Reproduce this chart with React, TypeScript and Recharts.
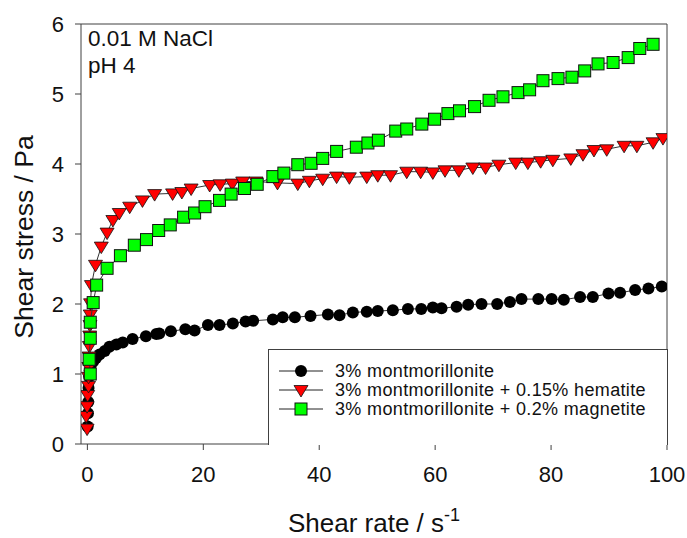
import React from "react";
import { ScatterChart, Scatter, XAxis, YAxis, ReferenceLine, Legend, Label } from "recharts";

const FONT = "Arial, 'Liberation Sans', sans-serif";
const AXIS = "#404040";

const rateTicks = [0, 20, 40, 60, 80, 100];
const stressTicks = [0, 1, 2, 3, 4, 5, 6];

// [shear rate (1/s), shear stress (Pa)]
const montmorillonite: [number, number][] = [
  [0.05, 0.25], [0.1, 0.44], [0.15, 0.6], [0.2, 0.8], [0.3, 0.96], [0.4, 1.05], [0.6, 1.13],
  [1.0, 1.18], [1.5, 1.23], [2.1, 1.28], [3.0, 1.33], [3.8, 1.39], [5.0, 1.42], [6.1, 1.45],
  [7.8, 1.5], [10.1, 1.54], [11.9, 1.57], [12.4, 1.58], [14.4, 1.61], [16.9, 1.64], [18.5, 1.62],
  [20.8, 1.7], [22.8, 1.7], [25.1, 1.72], [27.3, 1.75], [28.6, 1.76], [32.0, 1.78], [33.7, 1.81],
  [35.8, 1.81], [38.5, 1.83], [41.5, 1.85], [43.5, 1.84], [45.8, 1.88], [48.2, 1.89], [50.1, 1.9],
  [52.7, 1.91], [55.3, 1.93], [57.6, 1.93], [59.6, 1.95], [61.1, 1.94], [63.7, 1.96], [65.7, 1.99],
  [68.0, 2.0], [70.7, 2.0], [72.9, 2.03], [74.9, 2.07], [77.8, 2.07], [80.1, 2.07], [82.2, 2.06],
  [85.0, 2.1], [87.2, 2.1], [89.9, 2.15], [91.9, 2.16], [94.5, 2.2], [96.8, 2.22], [99.1, 2.25],
];

const withHematite: [number, number][] = [
  [-0.05, 0.22], [-0.2, 0.4], [-0.05, 0.54], [0.05, 0.7], [0.2, 0.83], [0.2, 0.96],
  [0.25, 1.1], [0.3, 1.25], [0.35, 1.4], [0.4, 1.55], [0.45, 1.7], [0.5, 1.85], [0.55, 2.01],
  [0.7, 2.27], [1.4, 2.56], [2.4, 2.82], [3.4, 3.02], [4.4, 3.2], [5.5, 3.3], [7.3, 3.39],
  [9.5, 3.48], [11.6, 3.57], [14.7, 3.58], [16.3, 3.6], [17.9, 3.65], [21.1, 3.7], [22.9, 3.71],
  [25.0, 3.72], [26.8, 3.75], [29.1, 3.75], [32.8, 3.73], [36.3, 3.72], [38.3, 3.76], [40.6, 3.79],
  [43.0, 3.82], [45.2, 3.81], [48.2, 3.82], [50.1, 3.84], [52.3, 3.84], [55.1, 3.89], [57.5, 3.89],
  [59.6, 3.88], [61.7, 3.91], [64.1, 3.91], [66.5, 3.95], [68.7, 3.95], [71.0, 3.99], [73.9, 4.02],
  [76.0, 4.02], [78.2, 4.04], [80.3, 4.06], [83.4, 4.08], [85.5, 4.14], [87.4, 4.2], [89.6, 4.21],
  [92.6, 4.26], [94.8, 4.26], [97.6, 4.31], [99.3, 4.37],
];

const withMagnetite: [number, number][] = [
  [0.5, 1.0], [0.3, 1.21], [0.5, 1.51], [0.5, 1.74], [1.0, 2.02], [1.6, 2.27], [3.4, 2.51],
  [5.7, 2.69], [8.1, 2.84], [10.2, 2.92], [12.3, 3.05], [14.3, 3.13], [16.6, 3.24], [18.5, 3.3],
  [20.3, 3.39], [22.8, 3.48], [24.8, 3.57], [27.1, 3.65], [29.3, 3.71], [32.0, 3.82], [33.9, 3.87],
  [36.3, 3.99], [38.6, 4.01], [40.6, 4.08], [43.0, 4.18], [46.4, 4.24], [48.4, 4.3], [50.2, 4.34],
  [53.2, 4.47], [55.1, 4.5], [57.7, 4.57], [59.9, 4.64], [62.2, 4.72], [64.2, 4.76], [66.8, 4.82],
  [69.3, 4.91], [71.7, 4.96], [74.3, 5.02], [76.3, 5.06], [78.6, 5.19], [81.2, 5.22], [83.6, 5.24],
  [85.8, 5.33], [88.1, 5.43], [90.7, 5.45], [93.3, 5.52], [95.3, 5.65], [97.6, 5.71],
];

const toPoints = (rows: [number, number][]) => rows.map(([rate, stress]) => ({ rate, stress }));

function Dot({ cx, cy }: any) {
  return <circle cx={cx} cy={cy} r={6} fill="#000" />;
}

function DownTriangle({ cx, cy }: any) {
  return (
    <polygon
      points={`${cx - 7},${cy - 4.5} ${cx + 7},${cy - 4.5} ${cx},${cy + 7}`}
      fill="#ff0000"
      stroke="#111"
      strokeWidth={0.8}
    />
  );
}

function Square({ cx, cy }: any) {
  return <rect x={cx - 6} y={cy - 6} width={12} height={12} fill="#00ff00" stroke="#111" strokeWidth={1} />;
}

const SERIES = [
  { key: "mont", name: "3% montmorillonite", data: toPoints(montmorillonite), Marker: Dot },
  { key: "hem", name: "3% montmorillonite + 0.15% hematite", data: toPoints(withHematite), Marker: DownTriangle },
  { key: "mag", name: "3% montmorillonite + 0.2% magnetite", data: toPoints(withMagnetite), Marker: Square },
];

function LegendBox() {
  return (
    <div
      style={{
        width: 400,
        height: 96,
        border: `1px solid ${AXIS}`,
        borderBottom: "none",
        boxSizing: "border-box",
        background: "#fff",
        paddingTop: 12,
        fontFamily: FONT,
        fontSize: 18,
        letterSpacing: 0.35,
        lineHeight: "18.5px",
        color: "#111",
      }}
    >
      {SERIES.map(({ key, name, Marker }) => (
        <div key={key} style={{ display: "flex", alignItems: "center", height: 18.8 }}>
          <svg width={66} height={18} style={{ flex: "none" }}>
            <line x1={10} x2={54} y1={9} y2={9} stroke="#222" strokeWidth={1} />
            <Marker cx={32} cy={9} />
          </svg>
          <span style={{ whiteSpace: "nowrap" }}>{name}</span>
        </div>
      ))}
    </div>
  );
}

function YTitle({ viewBox }: any) {
  const x = viewBox.x + 24;
  const y = viewBox.y + viewBox.height / 2 + 3;
  return (
    <text
      x={x}
      y={y}
      transform={`rotate(-90, ${x}, ${y})`}
      textAnchor="middle"
      dominantBaseline="central"
      fontFamily={FONT}
      fontSize={26.5}
      fill="#111"
    >
      Shear stress / Pa
    </text>
  );
}

function XTitle({ viewBox }: any) {
  return (
    <text
      x={viewBox.x + viewBox.width / 2}
      y={viewBox.y + 88}
      textAnchor="middle"
      fontFamily={FONT}
      fontSize={26}
      fill="#111"
    >
      Shear rate / s
      <tspan fontSize={18} dy={-11}>-1</tspan>
    </text>
  );
}

function Conditions({ viewBox }: any) {
  const x = viewBox.x + 7;
  return (
    <text fontFamily={FONT} fontSize={22.5} fill="#111">
      <tspan x={x} y={viewBox.y + 22}>0.01 M NaCl</tspan>
      <tspan x={x} y={viewBox.y + 49}>pH 4</tspan>
    </text>
  );
}

export default function App() {
  const tick = { fontSize: 22, fill: "#111", fontFamily: FONT };
  return (
    <div style={{ position: "absolute", left: 0, top: 0, background: "#fff" }}>
      <ScatterChart width={687} height={538} margin={{ top: 24, right: 20, bottom: 0, left: 0 }}>
        <XAxis
          type="number"
          dataKey="rate"
          domain={[-1.1, 100]}
          ticks={rateTicks}
          height={94}
          tick={tick}
          tickSize={6}
          tickMargin={16}
          stroke={AXIS}
          allowDataOverflow
        >
          <Label content={XTitle} />
        </XAxis>
        <YAxis
          type="number"
          dataKey="stress"
          domain={[0, 6]}
          ticks={stressTicks}
          width={81}
          tick={tick}
          tickSize={6}
          tickMargin={11}
          stroke={AXIS}
          allowDataOverflow
        >
          <Label content={YTitle} />
        </YAxis>
        <ReferenceLine y={6} stroke={AXIS} label={<Conditions />} />
        <ReferenceLine x={100} stroke={AXIS} />
        {SERIES.map(({ key, name, data, Marker }) => (
          <Scatter
            key={key}
            name={name}
            data={data}
            line={{ stroke: "#333", strokeWidth: 1 }}
            shape={(p: any) => <Marker cx={p.cx} cy={p.cy} />}
            isAnimationActive={false}
          />
        ))}
        <Legend
          layout="vertical"
          align="center"
          verticalAlign="middle"
          content={<LegendBox />}
          wrapperStyle={{ left: 268, top: 349, width: 400, height: 96 }}
        />
      </ScatterChart>
    </div>
  );
}
